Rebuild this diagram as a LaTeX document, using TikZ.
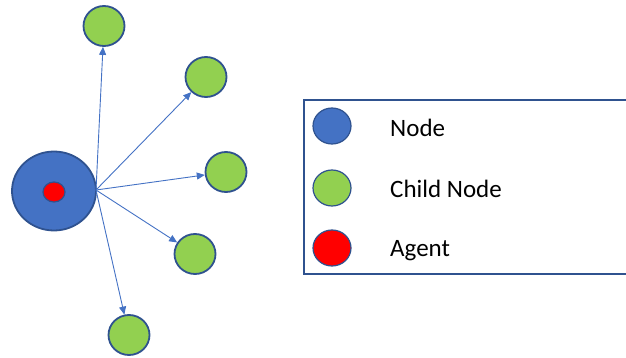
\documentclass[tikz,border=0pt]{standalone}
\usepackage{fontspec}
\setmainfont{Carlito}
\usetikzlibrary{shapes.geometric,arrows.meta}
\definecolor{nodeblue}{HTML}{4472C4}
\definecolor{edgeblue}{HTML}{2F528F}
\definecolor{childgreen}{HTML}{92D050}
\definecolor{agentred}{HTML}{FF0000}
\tikzset{
  bignode/.style={ellipse, draw=edgeblue, fill=nodeblue, line width=1.8pt, inner sep=0pt},
  childnode/.style={ellipse, draw=edgeblue, fill=childgreen, line width=1.8pt, inner sep=0pt, minimum width=41pt, minimum height=40pt},
  agentnode/.style={ellipse, draw=edgeblue, fill=agentred, line width=1.2pt, inner sep=0pt},
  arr/.style={draw=nodeblue, line width=0.9pt, -{Triangle[length=8pt,width=7pt]}},
  legtext/.style={anchor=base west, inner sep=0pt, font=\fontsize{25}{30}\selectfont},
  legcirc/.style={ellipse, draw=edgeblue, line width=1.2pt, inner sep=0pt, minimum width=38pt, minimum height=36pt}
}
\begin{document}
\begin{tikzpicture}[x=1pt,y=-1pt]
\useasboundingbox (0,0) rectangle (626,358);
% main structure
\node[bignode, minimum width=84pt, minimum height=79pt] (big) at (54,191) {};
\node[agentnode, minimum width=22pt, minimum height=20pt] (agent) at (54,192) {};
\node[childnode] (c1) at (104,26) {};
\node[childnode] (c2) at (206,77) {};
\node[childnode] (c3) at (226,172) {};
\node[childnode] (c4) at (195,254) {};
\node[childnode] (c5) at (129,335) {};
\coordinate (src) at (96,190);
\draw[arr] (src) -- (c1);
\draw[arr] (src) -- (c2);
\draw[arr] (src) -- (c3);
\draw[arr] (src) -- (c4);
\draw[arr] (src) -- (c5);
% legend
\draw[draw=edgeblue, line width=1.5pt] (304,100) rectangle (640,274);
\node[legcirc, fill=nodeblue] (lnode) at (332,126) {};
\node[legcirc, fill=childgreen] (lchild) at (332,188) {};
\node[legcirc, fill=agentred] (lagent) at (332,248) {};
\node[legtext] (tnode) at (390,137) {Node};
\node[legtext] (tchild) at (390,197) {Child Node};
\node[legtext] (tagent) at (390,256) {Agent};
\end{tikzpicture}
\end{document}
